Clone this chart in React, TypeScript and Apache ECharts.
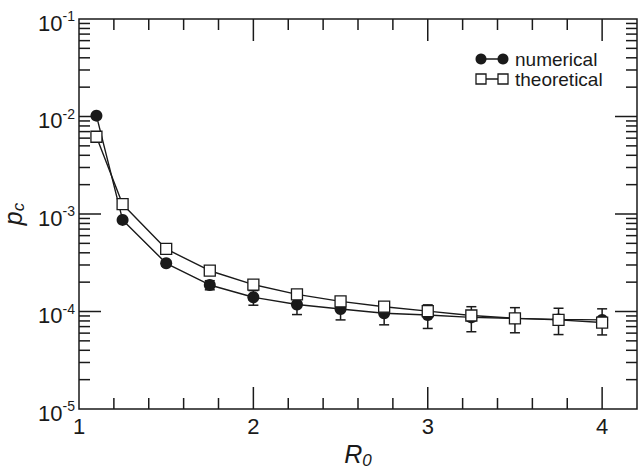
import React, { useEffect, useRef } from "react";
import * as echarts from "echarts";

const R0 = [1.1, 1.25, 1.5, 1.75, 2, 2.25, 2.5, 2.75, 3, 3.25, 3.5, 3.75, 4];
const numerical = [0.0102, 8.7e-4, 3.12e-4, 1.87e-4, 1.4e-4, 1.18e-4, 1.06e-4, 9.6e-5, 9.2e-5, 8.7e-5, 8.5e-5, 8.3e-5, 8.2e-5];
const numericalErr = [0, 0, 0, 2.0e-5, 2.4e-5, 2.5e-5, 2.4e-5, 2.3e-5, 2.5e-5, 2.5e-5, 2.45e-5, 2.5e-5, 2.45e-5];
const theoretical = [6.2e-3, 1.26e-3, 4.38e-4, 2.62e-4, 1.89e-4, 1.5e-4, 1.27e-4, 1.12e-4, 1.01e-4, 9.1e-5, 8.5e-5, 8.2e-5, 7.7e-5];
const xMajorTicks = [1, 2, 3, 4];
const xMinorTicks = [1.2, 1.4, 1.6, 1.8, 2.2, 2.4, 2.6, 2.8, 3.2, 3.4, 3.6, 3.8];
const yMajorTicks = [1e-5, 1e-4, 1e-3, 1e-2, 1e-1];
const yMinorMult = [2, 3, 4, 5, 6, 7, 8, 9];
const yMinorTicks: number[] = [];
[1e-5, 1e-4, 1e-3, 1e-2].forEach((d) => yMinorMult.forEach((m) => yMinorTicks.push(d * m)));

const FONT = "'Liberation Sans', Arial, sans-serif";
const INK = "#1a1a1a";

function xTickSeries(vals: number[], len: number) {
  return {
    type: "custom",
    silent: true,
    z: 1,
    data: vals.map((v) => [v, 1e-3]),
    renderItem: (params: any, api: any) => {
      const cs = params.coordSys;
      const px = api.coord([api.value(0), 1e-3])[0];
      const b = cs.y + cs.height;
      return {
        type: "group",
        children: [
          { type: "line", shape: { x1: px, y1: b, x2: px, y2: b - len }, style: { stroke: INK, lineWidth: 1.5 } },
          { type: "line", shape: { x1: px, y1: cs.y, x2: px, y2: cs.y + len }, style: { stroke: INK, lineWidth: 1.5 } },
        ],
      };
    },
  };
}

function yTickSeries(vals: number[], len: number) {
  return {
    type: "custom",
    silent: true,
    z: 1,
    data: vals.map((v) => [2, v]),
    renderItem: (params: any, api: any) => {
      const cs = params.coordSys;
      const py = api.coord([2, api.value(1)])[1];
      const r = cs.x + cs.width;
      return {
        type: "group",
        children: [
          { type: "line", shape: { x1: cs.x, y1: py, x2: cs.x + len, y2: py }, style: { stroke: INK, lineWidth: 1.5 } },
          { type: "line", shape: { x1: r, y1: py, x2: r - len, y2: py }, style: { stroke: INK, lineWidth: 1.5 } },
        ],
      };
    },
  };
}

export default function App() {
  const ref = useRef<HTMLDivElement>(null);
  useEffect(() => {
    const chart = echarts.init(ref.current!, null, { renderer: "svg" });
    chart.setOption({
      animation: false,
      backgroundColor: "#fff",
      grid: {
        left: 79, top: 19, right: 6, bottom: 63,
        containLabel: false,
        outerBoundsMode: "none",
        show: true, borderColor: INK, borderWidth: 1.5, backgroundColor: "transparent",
      },
      xAxis: {
        type: "value",
        min: 1,
        max: 4.2,
        interval: 1,
        axisLine: { show: false },
        axisTick: { show: false },
        splitLine: { show: false },
        axisLabel: {
          color: INK,
          fontFamily: FONT,
          fontSize: 22,
          margin: 6,
          formatter: (v: number) => (xMajorTicks.includes(v) ? String(v) : ""),
        },
        name: "{i|R}{sub|0}",
        nameLocation: "middle",
        nameGap: 23,
        nameTextStyle: {
          rich: {
            i: { fontFamily: FONT, fontStyle: "italic", fontSize: 25, color: INK },
            sub: { fontFamily: FONT, fontStyle: "italic", fontSize: 17, color: INK, padding: [12, 0, 0, 0] },
          },
        },
      },
      yAxis: {
        type: "log",
        logBase: 10,
        min: 1e-5,
        max: 1e-1,
        axisLine: { show: false },
        axisTick: { show: false },
        splitLine: { show: false },
        minorTick: { show: false },
        axisLabel: {
          margin: 4,
          formatter: (v: number) => `{b|10}{s|${Math.round(Math.log10(v))}}`,
          rich: {
            b: { fontFamily: FONT, fontSize: 22, color: INK, padding: [8, 0, 0, 0] },
            s: { fontFamily: FONT, fontSize: 14, color: INK, padding: [0, 0, 6, 0] },
          },
        },
        name: "{i|p}{sub|c}",
        nameLocation: "middle",
        nameGap: 50,
        nameTextStyle: {
          rich: {
            i: { fontFamily: FONT, fontStyle: "italic", fontSize: 25, color: INK },
            sub: { fontFamily: FONT, fontStyle: "italic", fontSize: 17, color: INK, padding: [12, 0, 0, 0] },
          },
        },
      },
      graphic: [
        { type: "line", shape: { x1: 481, y1: 59, x2: 503, y2: 59 }, style: { stroke: INK, lineWidth: 1.5 } },
        { type: "circle", shape: { cx: 481, cy: 59, r: 5.5 }, style: { fill: INK } },
        { type: "circle", shape: { cx: 503, cy: 59, r: 5.5 }, style: { fill: INK } },
        { type: "text", x: 515, y: 59, style: { text: "numerical", font: `19px ${FONT}`, fill: INK, verticalAlign: "middle" } },
        { type: "line", shape: { x1: 486, y1: 79, x2: 498, y2: 79 }, style: { stroke: INK, lineWidth: 1.5 } },
        { type: "rect", shape: { x: 476, y: 74, width: 10, height: 10 }, style: { fill: "#fff", stroke: INK, lineWidth: 1.3 } },
        { type: "rect", shape: { x: 498, y: 74, width: 10, height: 10 }, style: { fill: "#fff", stroke: INK, lineWidth: 1.3 } },
        { type: "text", x: 515, y: 79, style: { text: "theoretical", font: `19px ${FONT}`, fill: INK, verticalAlign: "middle" } },
      ],
      series: [
        xTickSeries(xMinorTicks, 11),
        xTickSeries(xMajorTicks.slice(1), 22),
        yTickSeries(yMinorTicks, 11),
        yTickSeries(yMajorTicks.slice(1, 4), 22),
        {
          name: "numerical",
          type: "line",
          z: 3,
          data: R0.map((x, i) => [x, numerical[i]]),
          symbol: "circle",
          symbolSize: 12,
          lineStyle: { color: INK, width: 1.4 },
          itemStyle: { color: INK, borderColor: INK, borderWidth: 0 },
        },
        {
          name: "err",
          type: "custom",
          z: 4,
          data: R0.map((x, i) => [x, numerical[i], numericalErr[i]]),
          renderItem: (params: any, api: any) => {
            const x = api.value(0);
            const m = api.value(1);
            const e = api.value(2);
            if (!e) return null;
            const t = api.coord([x, m + e]);
            const b = api.coord([x, m - e]);
            const w = 5;
            const st = { stroke: INK, lineWidth: 1.5 };
            return {
              type: "group",
              children: [
                { type: "line", shape: { x1: t[0], y1: t[1], x2: b[0], y2: b[1] }, style: st },
                { type: "line", shape: { x1: t[0] - w, y1: t[1], x2: t[0] + w, y2: t[1] }, style: st },
                { type: "line", shape: { x1: b[0] - w, y1: b[1], x2: b[0] + w, y2: b[1] }, style: st },
              ],
            };
          },
        },
        {
          name: "theoretical",
          type: "line",
          z: 5,
          data: R0.map((x, i) => [x, theoretical[i]]),
          symbol: "rect",
          symbolSize: 11,
          lineStyle: { color: INK, width: 1.4 },
          itemStyle: { color: "#fff", borderColor: INK, borderWidth: 1.3 },
        },
      ],
    });
    return () => chart.dispose();
  }, []);
  return <div ref={ref} style={{ position: "fixed", left: 0, top: 0, width: 643, height: 472 }} />;
}
